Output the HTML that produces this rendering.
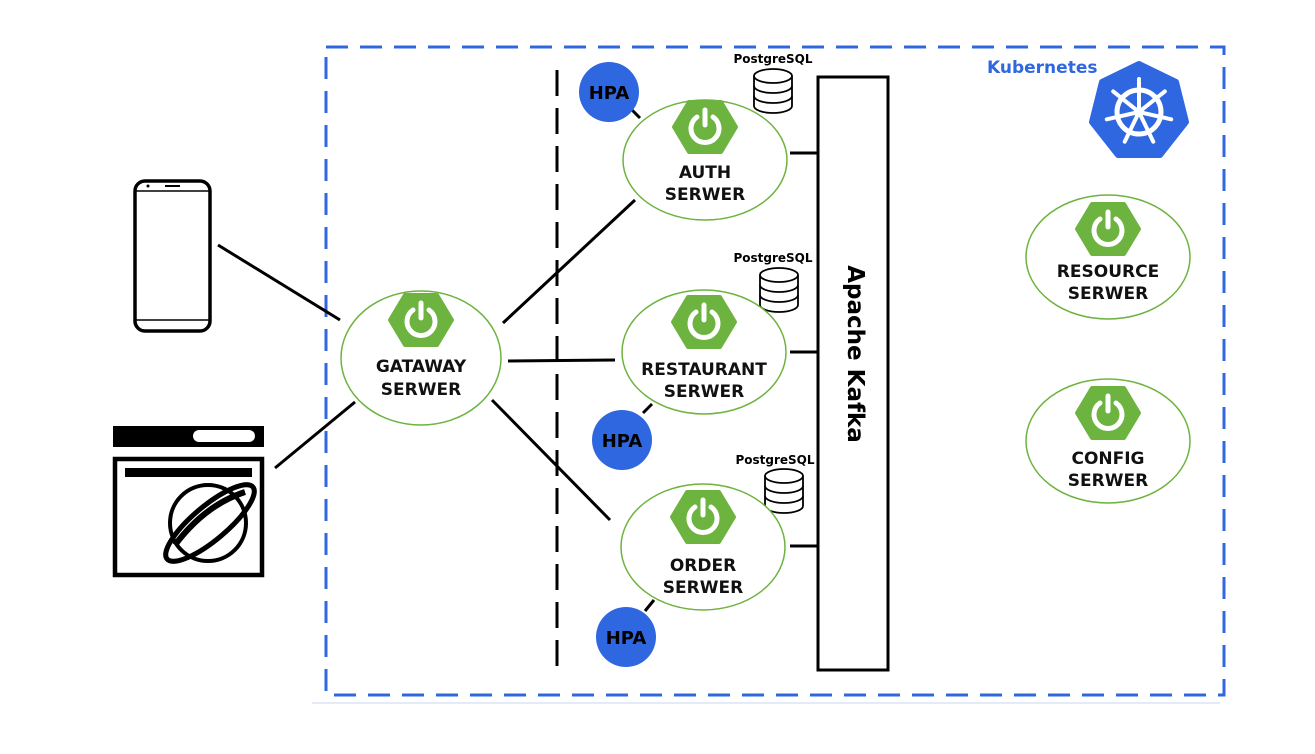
<!DOCTYPE html>
<html><head><meta charset="utf-8"><style>
html,body{margin:0;padding:0;background:#fff;}
svg{display:block;}
text{font-family:"DejaVu Sans","Liberation Sans",sans-serif;font-weight:bold;}
</style></head><body>
<svg width="1315" height="754" viewBox="0 0 1315 754" xmlns="http://www.w3.org/2000/svg">
<defs>
<g id="spring">
  <path d="M-31,0 L-16,-25 L16,-25 L31,0 L16,25 L-16,25 Z" fill="#6db33f" stroke="#6db33f" stroke-width="4" stroke-linejoin="round"/>
  <path d="M-8,-10 A14,14 0 1 0 8,-10" fill="none" stroke="#fff" stroke-width="5" stroke-linecap="round"/>
  <line x1="0" y1="-17" x2="0" y2="-2" stroke="#fff" stroke-width="5" stroke-linecap="round"/>
</g>
<g id="db">
  <path d="M-19,-14 V16 A19,7 0 0 0 19,16 V-14" fill="#fff" stroke="#000" stroke-width="1.8"/>
  <path d="M-19,-4 A19,7 0 0 0 19,-4 M-19,6 A19,7 0 0 0 19,6" fill="none" stroke="#000" stroke-width="1.8"/>
  <ellipse cx="0" cy="-14" rx="19" ry="7" fill="#fff" stroke="#000" stroke-width="1.8"/>
</g>
</defs>

<rect x="326" y="47" width="898" height="648" fill="none" stroke="#2f67e0" stroke-width="3" stroke-dasharray="22,12"/>
<line x1="312" y1="703" x2="1220" y2="703" stroke="#c8d4f2" stroke-width="1"/>
<text x="987" y="73" font-size="17" fill="#2f67e0">Kubernetes</text>
<g transform="translate(1139,112)">
  <path d="M0,-48 L37,-30 L47,10 L21,43 L-21,43 L-47,10 L-37,-30 Z" fill="#2f67e0" stroke="#2f67e0" stroke-width="6" stroke-linejoin="round"/>
  <circle cx="0" cy="0" r="22" fill="none" stroke="#fff" stroke-width="5"/>
  <circle cx="0" cy="0" r="5" fill="#fff"/>
  <g stroke="#fff" stroke-width="4" stroke-linecap="round">
    <line x1="0" y1="0" x2="0" y2="-33"/>
    <line x1="0" y1="0" x2="25.8" y2="-20.6"/>
    <line x1="0" y1="0" x2="32.2" y2="7.3"/>
    <line x1="0" y1="0" x2="14.3" y2="29.7"/>
    <line x1="0" y1="0" x2="-14.3" y2="29.7"/>
    <line x1="0" y1="0" x2="-32.2" y2="7.3"/>
    <line x1="0" y1="0" x2="-25.8" y2="-20.6"/>
  </g>
</g>

<line x1="557" y1="70" x2="557" y2="678" stroke="#000" stroke-width="3" stroke-dasharray="26,12"/>

<rect x="818" y="77" width="70" height="593" fill="#fff" stroke="#000" stroke-width="3"/>
<text transform="translate(848,354) rotate(90)" text-anchor="middle" font-size="23" fill="#000">Apache Kafka</text>

<g stroke="#000" stroke-width="3">
  <line x1="218" y1="245" x2="340" y2="320"/>
  <line x1="275" y1="468" x2="355" y2="402"/>
  <line x1="503" y1="323" x2="635" y2="200"/>
  <line x1="508" y1="361" x2="615" y2="360"/>
  <line x1="492" y1="400" x2="610" y2="520"/>
  <line x1="790" y1="153" x2="818" y2="153"/>
  <line x1="790" y1="352" x2="818" y2="352"/>
  <line x1="790" y1="546" x2="818" y2="546"/>
  <line x1="629" y1="107" x2="640" y2="118"/>
  <line x1="643" y1="413" x2="652" y2="404"/>
  <line x1="645" y1="611" x2="654" y2="600"/>
</g>

<g fill="#2f67e0">
  <circle cx="609" cy="92" r="30"/>
  <circle cx="622" cy="440" r="30"/>
  <circle cx="626" cy="637" r="30"/>
</g>
<g font-size="18" fill="#000" text-anchor="middle">
  <text x="609" y="99">HPA</text>
  <text x="622" y="447">HPA</text>
  <text x="626" y="644">HPA</text>
</g>

<use href="#db" x="773" y="90"/>
<use href="#db" x="779" y="289"/>
<use href="#db" x="784" y="490"/>
<g font-size="12" fill="#000" text-anchor="middle">
  <text x="773" y="63">PostgreSQL</text>
  <text x="773" y="262">PostgreSQL</text>
  <text x="775" y="464">PostgreSQL</text>
</g>

<g fill="#fff" stroke="#6db33f" stroke-width="1.5">
  <ellipse cx="705" cy="160" rx="82" ry="60"/>
  <ellipse cx="704" cy="352" rx="82" ry="62"/>
  <ellipse cx="703" cy="547" rx="82" ry="63"/>
  <ellipse cx="421" cy="358" rx="80" ry="67"/>
  <ellipse cx="1108" cy="257" rx="82" ry="62"/>
  <ellipse cx="1108" cy="441" rx="82" ry="62"/>
</g>
<use href="#spring" x="705" y="127"/>
<use href="#spring" x="704" y="322"/>
<use href="#spring" x="703" y="517"/>
<use href="#spring" x="421" y="320"/>
<use href="#spring" x="1108" y="229"/>
<use href="#spring" x="1108" y="413"/>
<g font-size="17" fill="#111" text-anchor="middle">
  <text x="705" y="178">AUTH</text><text x="705" y="200">SERWER</text>
  <text x="704" y="375">RESTAURANT</text><text x="704" y="397">SERWER</text>
  <text x="703" y="571">ORDER</text><text x="703" y="593">SERWER</text>
  <text x="421" y="372">GATAWAY</text><text x="421" y="395">SERWER</text>
  <text x="1108" y="277">RESOURCE</text><text x="1108" y="299">SERWER</text>
  <text x="1108" y="464">CONFIG</text><text x="1108" y="486">SERWER</text>
</g>

<rect x="135" y="181" width="75" height="150" rx="10" fill="#fff" stroke="#000" stroke-width="3.5"/>
<line x1="136" y1="191" x2="209" y2="191" stroke="#000" stroke-width="1.5"/>
<line x1="136" y1="320" x2="209" y2="320" stroke="#000" stroke-width="1.5"/>
<circle cx="148" cy="186" r="1.5" fill="#000"/>
<line x1="165" y1="186" x2="180" y2="186" stroke="#000" stroke-width="2"/>

<rect x="113" y="426" width="151" height="21" fill="#000"/>
<rect x="193" y="430" width="62" height="12" rx="6" fill="#fff"/>
<rect x="115" y="459" width="147" height="116" fill="#fff" stroke="#000" stroke-width="4.5"/>
<rect x="125" y="468" width="127" height="9" fill="#000"/>
<circle cx="208" cy="523" r="38" fill="none" stroke="#000" stroke-width="4"/>
<ellipse cx="210" cy="523" rx="56" ry="17" transform="rotate(-40 210 523)" fill="none" stroke="#000" stroke-width="5"/>
<path d="M175,545 Q205,505 245,492" fill="none" stroke="#000" stroke-width="6"/>
</svg>
</body></html>
